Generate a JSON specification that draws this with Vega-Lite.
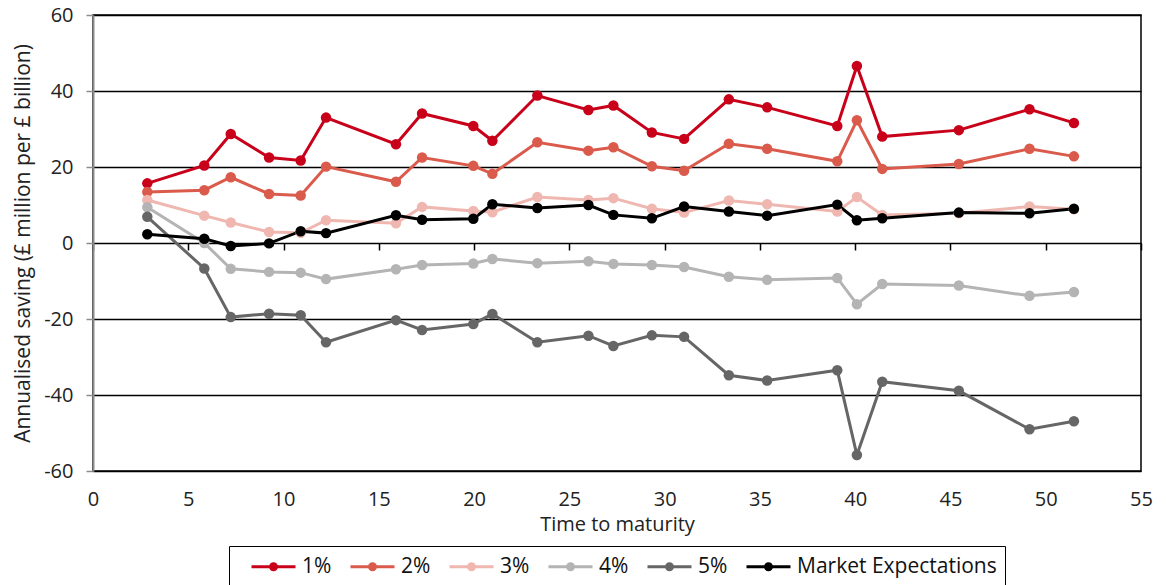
{
  "$schema": "https://vega.github.io/schema/vega-lite/v6.json",
  "width": 1048,
  "height": 456,
  "autosize": {"type": "none"},
  "padding": {"left": 93, "top": 15, "right": 25, "bottom": 114},
  "background": "white",
  "config": {
    "font": "Open Sans",
    "view": {"stroke": "#000", "strokeWidth": 1.5}
  },
  "data": {"values": [
    {"t": 2.85, "p1": 15.7, "p2": 13.4, "p3": 11.3, "p4": 9.4, "p5": 6.9, "mkt": 2.3},
    {"t": 5.84, "p1": 20.4, "p2": 13.9, "p3": 7.2, "p4": 0.0, "p5": -6.7, "mkt": 1.1},
    {"t": 7.23, "p1": 28.7, "p2": 17.3, "p3": 5.4, "p4": -6.8, "p5": -19.5, "mkt": -0.8},
    {"t": 9.24, "p1": 22.5, "p2": 12.9, "p3": 2.9, "p4": -7.6, "p5": -18.6, "mkt": -0.1},
    {"t": 10.9, "p1": 21.7, "p2": 12.5, "p3": 2.7, "p4": -7.8, "p5": -19.0, "mkt": 3.1},
    {"t": 12.23, "p1": 33.0, "p2": 20.1, "p3": 6.0, "p4": -9.5, "p5": -26.1, "mkt": 2.6},
    {"t": 15.9, "p1": 26.0, "p2": 16.1, "p3": 5.2, "p4": -6.9, "p5": -20.3, "mkt": 7.3},
    {"t": 17.27, "p1": 34.1, "p2": 22.5, "p3": 9.5, "p4": -5.8, "p5": -22.9, "mkt": 6.1},
    {"t": 19.96, "p1": 30.8, "p2": 20.3, "p3": 8.4, "p4": -5.4, "p5": -21.3, "mkt": 6.4},
    {"t": 20.96, "p1": 26.9, "p2": 18.2, "p3": 8.1, "p4": -4.2, "p5": -18.7, "mkt": 10.2},
    {"t": 23.32, "p1": 38.8, "p2": 26.5, "p3": 12.1, "p4": -5.3, "p5": -26.1, "mkt": 9.2},
    {"t": 26.0, "p1": 35.0, "p2": 24.3, "p3": 11.3, "p4": -4.8, "p5": -24.4, "mkt": 10.0},
    {"t": 27.31, "p1": 36.2, "p2": 25.2, "p3": 11.8, "p4": -5.5, "p5": -27.1, "mkt": 7.4},
    {"t": 29.33, "p1": 29.1, "p2": 20.2, "p3": 9.0, "p4": -5.8, "p5": -24.3, "mkt": 6.5},
    {"t": 31.02, "p1": 27.4, "p2": 19.0, "p3": 8.0, "p4": -6.3, "p5": -24.7, "mkt": 9.6},
    {"t": 33.37, "p1": 37.8, "p2": 26.1, "p3": 11.2, "p4": -8.9, "p5": -34.8, "mkt": 8.3},
    {"t": 35.38, "p1": 35.7, "p2": 24.8, "p3": 10.2, "p4": -9.7, "p5": -36.2, "mkt": 7.2},
    {"t": 39.06, "p1": 30.8, "p2": 21.5, "p3": 8.3, "p4": -9.2, "p5": -33.5, "mkt": 10.1},
    {"t": 40.09, "p1": 46.6, "p2": 32.3, "p3": 12.1, "p4": -16.1, "p5": -55.8, "mkt": 6.0},
    {"t": 41.42, "p1": 28.0, "p2": 19.5, "p3": 7.4, "p4": -10.8, "p5": -36.5, "mkt": 6.5},
    {"t": 45.44, "p1": 29.7, "p2": 20.8, "p3": 7.8, "p4": -11.2, "p5": -38.9, "mkt": 8.0},
    {"t": 49.15, "p1": 35.2, "p2": 24.8, "p3": 9.6, "p4": -13.9, "p5": -49.0, "mkt": 7.8},
    {"t": 51.48, "p1": 31.6, "p2": 22.8, "p3": 8.9, "p4": -12.9, "p5": -46.9, "mkt": 9.0}
  ]},
  "transform": [
    {"fold": ["p1", "p2", "p3", "p4", "p5", "mkt"], "as": ["series", "value"]}
  ],
  "layer": [
    {
      "mark": {"type": "line", "strokeWidth": 3, "point": {"size": 110, "filled": true, "opacity": 1}},
      "encoding": {
        "x": {
          "field": "t", "type": "quantitative",
          "scale": {"domain": [0, 55], "nice": false, "zero": false},
          "axis": {
            "values": [0, 5, 10, 15, 20, 25, 30, 35, 40, 45, 50, 55],
            "ticks": false, "domain": false, "grid": false,
            "labelPadding": 18, "labelFontSize": 20, "labelColor": "#222",
            "labelFlush": false,
            "title": "Time to maturity", "titleFontSize": 20, "titleFontWeight": "normal",
            "titleColor": "#222", "titlePadding": 5
          }
        },
        "y": {
          "field": "value", "type": "quantitative",
          "scale": {"domain": [-60, 60], "nice": false},
          "axis": {
            "values": [-60, -40, -20, 0, 20, 40, 60],
            "labelExpr": "datum.value < 0 ? '-' + abs(datum.value) : '' + datum.value",
            "grid": true, "gridColor": "#000", "gridWidth": 1.5, "gridOpacity": 1,
            "domain": true, "domainColor": "#8c8c8c", "domainWidth": 2,
            "ticks": true, "tickColor": "#8c8c8c", "tickSize": 7, "tickWidth": 1.5,
            "labelPadding": 13, "labelFontSize": 20, "labelColor": "#222",
            "title": "Annualised saving (£ million per £ billion)", "titleFontSize": 21,
            "titleFontWeight": "normal", "titleColor": "#222", "titlePadding": 10
          }
        },
        "color": {
          "field": "series", "type": "nominal",
          "scale": {
            "domain": ["p1", "p2", "p3", "p4", "p5", "mkt"],
            "range": ["#C8001A", "#DA5A4C", "#EFB7B0", "#B4B4B4", "#666666", "#000000"]
          },
          "legend": {
            "orient": "none", "legendX": 136, "legendY": 531,
            "direction": "horizontal", "title": null,
            "labelExpr": "{'p1': '1%', 'p2': '2%', 'p3': '3%', 'p4': '4%', 'p5': '5%', 'mkt': 'Market Expectations'}[datum.label]",
            "strokeColor": "#000", "padding": 8,
            "labelFontSize": 21, "labelColor": "#111", "labelOffset": 27, "labelLimit": 400,
            "symbolType": "M-1,0L3,0M0.73,0A0.27,0.27,0,1,0,1.27,0A0.27,0.27,0,1,0,0.73,0Z",
            "symbolSize": 484, "symbolStrokeWidth": 3, "symbolOffset": 13,
            "columnPadding": 4
          }
        }
      }
    },
    {
      "mark": {"type": "point", "opacity": 0},
      "encoding": {
        "x": {
          "field": "t", "type": "quantitative",
          "axis": {
            "orient": "bottom", "offset": -228,
            "values": [0, 5, 10, 15, 20, 25, 30, 35, 40, 45, 50, 55],
            "labels": false, "domain": false, "grid": false,
            "ticks": true, "tickColor": "#000", "tickSize": 7, "tickWidth": 1.5,
            "title": null
          }
        }
      }
    }
  ],
  "resolve": {"axis": {"x": "independent"}}
}
